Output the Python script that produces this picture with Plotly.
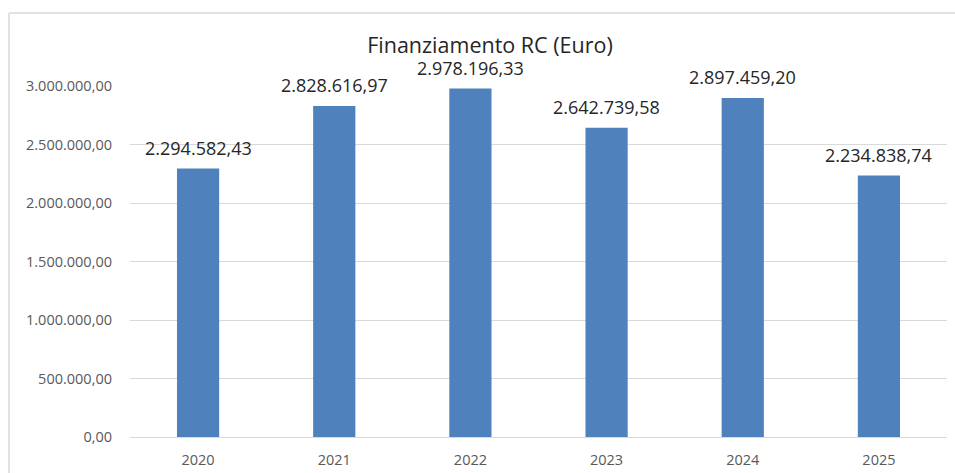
import plotly.graph_objects as go

years = ["2020", "2021", "2022", "2023", "2024", "2025"]
values = [2294582.43, 2828616.97, 2978196.33, 2642739.58, 2897459.20, 2234838.74]
y_ticks = [0, 500000, 1000000, 1500000, 2000000, 2500000, 3000000]

W, H = 955, 473
L, R, T, B = 130, 8, 86, 36
pw = W - L - R
ph = H - T - B


def it_fmt(v):
    return f"{v:,.2f}".replace(",", "X").replace(".", ",").replace("X", ".")


fig = go.Figure(go.Bar(
    x=years, y=values,
    marker=dict(color="#4F81BD", line=dict(width=0)),
    width=0.31,
    cliponaxis=False,
))

# category index i on the categorical x axis
for i, v in enumerate(values):
    fig.add_annotation(x=i, y=v, text=it_fmt(v),
                       showarrow=False, yanchor="bottom", xanchor="center", yshift=7,
                       font=dict(size=18, color="#262626", family="Open Sans"))

frame_x = (9 - L) / pw
frame_y = (H - B - 13) / ph
fig.add_shape(type="line", xref="paper", yref="paper", x0=frame_x, x1=frame_x, y0=-1, y1=frame_y,
              line=dict(color="#d9d9d9", width=1.5))
fig.add_shape(type="line", xref="paper", yref="paper", x0=frame_x, x1=2, y0=frame_y, y1=frame_y,
              line=dict(color="#d9d9d9", width=1.5))

fig.update_layout(
    width=W, height=H,
    margin=dict(l=L, r=R, t=T, b=B, autoexpand=False),
    paper_bgcolor="white", plot_bgcolor="white",
    separators=",.",
    font=dict(family="Open Sans", color="#595959"),
    title=dict(text="Finanziamento RC (Euro)", x=490 / W, xref="container", xanchor="center",
               y=1 - 45 / H, yref="container", yanchor="middle",
               font=dict(size=21.5, color="#262626")),
    showlegend=False,
)
fig.update_yaxes(range=[0, 3000000], tickvals=y_ticks, tickformat=",.2f",
                 showgrid=True, gridcolor="#d9d9d9", gridwidth=1,
                 zeroline=False, showline=False, ticks="", automargin=False,
                 tickfont=dict(size=14.5, color="#595959"), ticklabelstandoff=17)
fig.update_xaxes(type="category", range=[-0.5, len(years) - 0.5],
                 showgrid=False, showline=True, linecolor="#d9d9d9", linewidth=1,
                 ticks="", automargin=False,
                 tickfont=dict(size=14.5, color="#595959"), ticklabelstandoff=10)

fig.write_html("out.html", config={"displayModeBar": False},
               post_script="document.body.style.margin='0';document.body.style.overflow='hidden';")
